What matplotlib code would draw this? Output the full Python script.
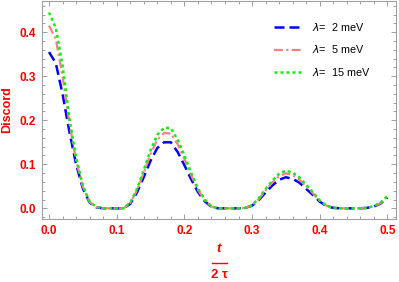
import matplotlib
matplotlib.use("Agg")
import matplotlib.pyplot as plt
from matplotlib.ticker import MultipleLocator

t = [0.00, 0.01, 0.02, 0.03, 0.04, 0.05, 0.06, 0.07, 0.08, 0.09,
     0.10, 0.11, 0.12, 0.13, 0.14, 0.15, 0.16, 0.17, 0.18, 0.19,
     0.20, 0.21, 0.22, 0.23, 0.24, 0.25, 0.26, 0.27, 0.28, 0.29,
     0.30, 0.31, 0.32, 0.33, 0.34, 0.35, 0.36, 0.37, 0.38, 0.39,
     0.40, 0.41, 0.42, 0.43, 0.44, 0.45, 0.46, 0.47, 0.48, 0.49, 0.50]

d_2meV = [0.355, 0.330, 0.260, 0.175, 0.100, 0.045, 0.013, 0.002, 0.000, 0.000,
          0.000, 0.000, 0.010, 0.036, 0.071, 0.108, 0.137, 0.150, 0.150, 0.128,
          0.098, 0.066, 0.037, 0.016, 0.003, 0.000, 0.000, 0.000, 0.000, 0.001,
          0.006, 0.019, 0.036, 0.052, 0.065, 0.0705, 0.067, 0.058, 0.044, 0.030,
          0.015, 0.005, 0.001, 0.000, 0.000, 0.000, 0.000, 0.001, 0.004, 0.011, 0.024]

d_5meV = [0.415, 0.385, 0.300, 0.195, 0.108, 0.049, 0.014, 0.0025, 0.000, 0.000,
          0.000, 0.000, 0.012, 0.041, 0.081, 0.123, 0.156, 0.171, 0.170, 0.146,
          0.112, 0.075, 0.042, 0.018, 0.004, 0.000, 0.000, 0.000, 0.000, 0.001,
          0.007, 0.021, 0.041, 0.059, 0.073, 0.0795, 0.076, 0.065, 0.050, 0.034,
          0.017, 0.006, 0.001, 0.000, 0.000, 0.000, 0.000, 0.001, 0.005, 0.012, 0.027]

d_15meV = [0.445, 0.410, 0.325, 0.205, 0.115, 0.052, 0.015, 0.003, 0.000, 0.000,
           0.000, 0.000, 0.013, 0.044, 0.087, 0.132, 0.167, 0.183, 0.182, 0.156,
           0.120, 0.080, 0.045, 0.020, 0.004, 0.000, 0.000, 0.000, 0.000, 0.001,
           0.007, 0.023, 0.044, 0.063, 0.079, 0.0855, 0.081, 0.070, 0.053, 0.036,
           0.018, 0.006, 0.001, 0.000, 0.000, 0.000, 0.000, 0.001, 0.005, 0.013, 0.028]

labels = [r"$\lambda$=  2 meV", r"$\lambda$=  5 meV", r"$\lambda$=  15 meV"]
xticks = [0.0, 0.1, 0.2, 0.3, 0.4, 0.5]
yticks = [0.0, 0.1, 0.2, 0.3, 0.4]

plt.rcParams['font.family'] = ['Liberation Sans', 'DejaVu Sans']
plt.rcParams['mathtext.fontset'] = 'dejavusans'

fig = plt.figure(figsize=(3.99, 2.82), dpi=100)
ax = fig.add_axes([0.1045, 0.2234, 0.888, 0.7731])

ax.plot(t, d_2meV, color='#0000ff', lw=1.8, ls=(0, (4, 2)), label=labels[0])
ax.plot(t, d_5meV, color='#ff8080', lw=1.6, ls=(0, (4, 1.5, 1, 1.5)), label=labels[1])
ax.plot(t, d_15meV, color='#11ee11', lw=1.8, ls=(0, (1.2, 1.2)), label=labels[2])

ax.set_xlim(-0.0108, 0.5126)
ax.set_ylim(-0.0243, 0.471)
ax.set_xticks(xticks)
ax.set_yticks(yticks)
ax.set_xticklabels([f"{v:.1f}" for v in xticks])
ax.set_yticklabels([f"{v:.1f}" for v in yticks])
ax.xaxis.set_minor_locator(MultipleLocator(0.02))
ax.yaxis.set_minor_locator(MultipleLocator(0.02))

for s in ax.spines.values():
    s.set_color('#a0a0a0')
    s.set_linewidth(0.8)
ax.tick_params(which='both', direction='in', top=True, right=True,
               color='#a0a0a0', width=0.7)
ax.tick_params(which='major', length=3.5, labelsize=8.5, labelcolor='#ff0000', pad=4)
ax.tick_params(which='minor', length=2)
for lab in ax.get_xticklabels() + ax.get_yticklabels():
    lab.set_fontweight('bold')

ax.set_ylabel('Discord', color='#ff0000', fontweight='bold', fontsize=9, labelpad=5)

leg = ax.legend(loc='upper right', frameon=False, fontsize=7.8,
                handlelength=2.8, handletextpad=0.7, labelspacing=1.0,
                bbox_to_anchor=(0.955, 0.955))

# x label as fraction t / 2τ
fig.text(0.547, 1 - 249 / 282, 't', color='#ff0000', fontsize=9.5, fontweight='bold',
         style='italic', ha='center', va='center')
fig.add_artist(plt.Line2D([212 / 399, 227 / 399], [1 - 262.7 / 282, 1 - 262.7 / 282],
                          color='#ff0000', lw=1.0))
fig.text(0.551, 1 - 275 / 282, '2 τ', color='#ff0000', fontsize=9.5, fontweight='bold',
         ha='center', va='center')

fig.savefig('out.png', dpi=100)
